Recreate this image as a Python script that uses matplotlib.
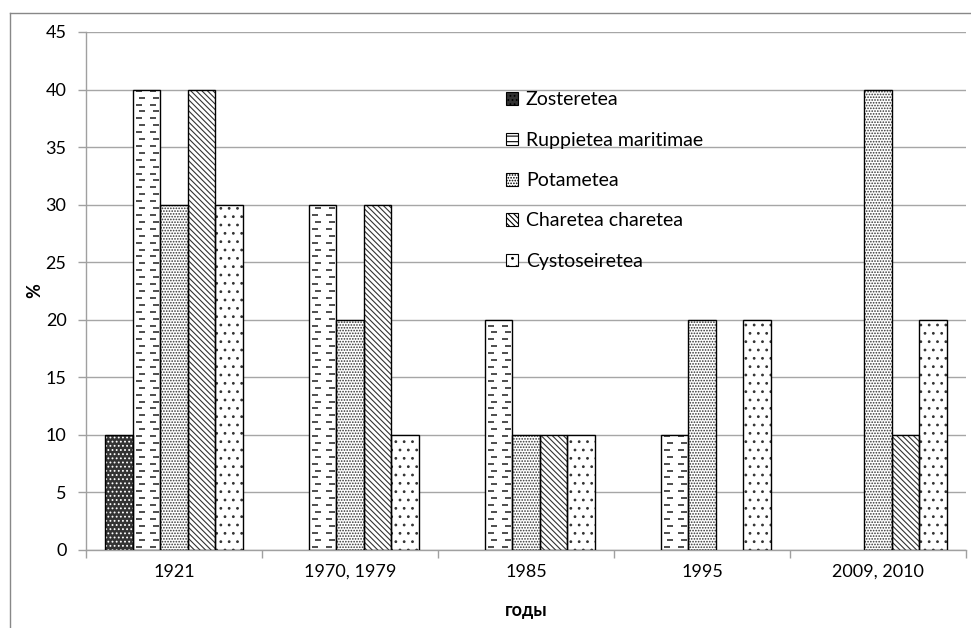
import matplotlib
matplotlib.use("Agg")
import matplotlib.pyplot as plt
import numpy as np
from matplotlib.patches import Rectangle
from matplotlib.lines import Line2D

# data
years = ["1921", "1970, 1979", "1985", "1995", "2009, 2010"]
classes = ["Zosteretea", "Ruppietea maritimae", "Potametea",
           "Charetea charetea", "Cystoseiretea"]
zosteretea = [10, 0, 0, 0, 0]
ruppietea = [40, 30, 20, 10, 0]
potametea = [30, 20, 10, 20, 40]
charetea = [40, 30, 10, 0, 10]
cystoseiretea = [30, 10, 10, 20, 20]
series = [zosteretea, ruppietea, potametea, charetea, cystoseiretea]

plt.rcParams['font.family'] = ['Lato', 'Noto Sans', 'DejaVu Sans']
plt.rcParams['hatch.linewidth'] = 0.8

# fill / hatch / hatch colour per class
faces = ['#333333', 'white', 'white', 'white', 'white']
hatches = ['....', None, '......', '\\\\\\\\\\\\', '..']
hatch_cols = ['white', 'black', '#333333', '#333333', '#333333']

fig = plt.figure(figsize=(9.71, 6.28), dpi=100)
ax = fig.add_axes([86/971, 1-550/628, 880/971, 518/628])

x = np.arange(len(years))
w = 0.157
for j, vals in enumerate(series):
    vals = np.array(vals)
    keep = vals > 0
    pos = (x + (j - 2) * w)[keep]
    vals = vals[keep]
    # hatch layer
    ax.bar(pos, vals, w, color=faces[j], hatch=hatches[j],
           edgecolor=hatch_cols[j], linewidth=0, zorder=2)
    # outline
    ax.bar(pos, vals, w, fill=False, edgecolor='black', linewidth=1.0, zorder=3)
    if j == 1:
        # dashed texture for Ruppietea maritimae
        for p, v in zip(pos, vals):
            ys = np.arange(0.3, v, 0.6)
            for k, yy in enumerate(ys):
                xs = p + (np.array([-0.22, 0.28]) + (0.06 if k % 2 else -0.04)) * w
                ax.plot(xs, [yy, yy], ls='none', marker='_', ms=5, mew=1.4,
                        color='#4d4d4d', zorder=2.5)

ax.set_xlim(-0.5, len(years) - 0.5)
ax.set_ylim(0, 45)
ax.set_yticks(np.arange(0, 46, 5))
ax.set_xticks(x)
ax.set_xticklabels(years)
ax.set_xticks(np.arange(-0.5, len(years), 1), minor=True)
ax.tick_params(axis='x', which='major', length=0, pad=10, labelsize=13)
ax.tick_params(axis='x', which='minor', length=6, color='#A0A0A0', width=1)
ax.tick_params(axis='y', length=6, color='#A0A0A0', width=1, pad=8, labelsize=13)
ax.grid(axis='y', color='#A6A6A6', linewidth=1, zorder=0)
ax.set_axisbelow(True)
for s in ['top', 'right']:
    ax.spines[s].set_visible(False)
for s in ['left', 'bottom']:
    ax.spines[s].set_color('#A0A0A0')
    ax.spines[s].set_linewidth(1)

ax.set_ylabel('%', fontsize=13, fontweight='bold', labelpad=2)
ax.set_xlabel('годы', fontsize=13, fontweight='bold', labelpad=16)

# legend
handles = []
for j in range(5):
    h = hatches[j] if j != 1 else '---'
    handles.append(Rectangle((0, 0), 1, 1, facecolor=faces[j], hatch=h,
                             edgecolor='black', linewidth=0.8))
leg = ax.legend(handles, classes, loc='upper left',
                bbox_to_anchor=(488/971, 1-74/628), bbox_transform=fig.transFigure,
                frameon=False, fontsize=14, handlelength=0.65, handleheight=0.65,
                handletextpad=0.4, labelspacing=1.2)

# outer chart border
fig.add_artist(Line2D([10/971, 10/971], [0, 1-13/628], color='#888888', lw=1))
fig.add_artist(Line2D([10/971, 1], [1-13/628, 1-13/628], color='#888888', lw=1))

fig.savefig('out.png', dpi=100)
